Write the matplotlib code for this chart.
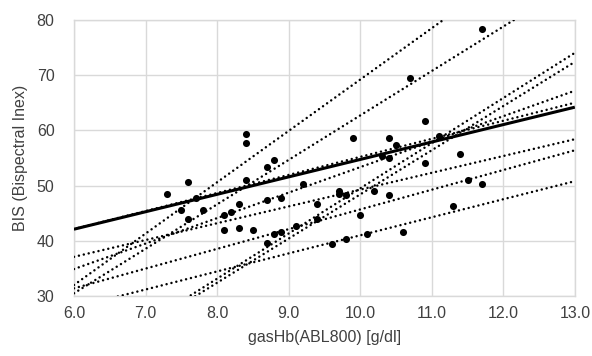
import matplotlib
matplotlib.use("Agg")
import matplotlib.pyplot as plt
import numpy as np

plt.rcParams['font.family'] = ['Liberation Sans', 'DejaVu Sans']

# scatter data: gasHb vs BIS
hb = [7.3, 7.5, 7.6, 7.6, 7.7, 7.8, 8.1, 8.1, 8.2, 8.3, 8.3, 8.4, 8.4, 8.4, 8.5,
      8.7, 8.7, 8.7, 8.8, 8.8, 8.9, 8.9, 9.1, 9.2, 9.4, 9.4, 9.6, 9.7, 9.7, 9.8,
      9.8, 9.9, 10.0, 10.1, 10.2, 10.3, 10.4, 10.4, 10.4, 10.5, 10.6, 10.7, 10.9,
      10.9, 11.1, 11.3, 11.4, 11.5, 11.7, 11.7]
bis = [48.4, 45.6, 50.65, 44.0, 47.75, 45.6, 44.7, 42.0, 45.3, 46.7, 42.3, 59.35,
       57.65, 51.0, 42.0, 53.4, 47.3, 39.6, 54.7, 41.3, 47.7, 41.65, 42.6, 50.35,
       46.7, 44.0, 39.4, 49.0, 48.5, 48.3, 40.3, 58.7, 44.7, 41.3, 49.0, 55.4,
       58.7, 55.0, 48.3, 57.35, 41.65, 69.4, 61.7, 54.0, 59.0, 46.3, 55.7, 51.0,
       50.35, 78.4]

# overall regression (solid)
overall_intercept = 23.16
overall_slope = 3.157

# individual regression lines (dotted)
ind_intercepts = [-23.8, -17.8, -32.3, -31.6, 22.5, 7.2, 18.84, 9.97, 8.29]
ind_slopes = [9.3, 8.05, 8.18, 8.0, 3.27, 4.614, 3.043, 3.571, 3.27]

xticks = [6.0, 7.0, 8.0, 9.0, 10.0, 11.0, 12.0, 13.0]
yticks = [30, 40, 50, 60, 70, 80]

fig = plt.figure(figsize=(5.92, 3.56), dpi=100)
ax = fig.add_axes([0.125, 0.1685, 0.846, 0.7755])

xs = np.linspace(6.0, 13.0, 200)
for a, b in zip(ind_intercepts, ind_slopes):
    ax.plot(xs, a + b * xs, color='black', linewidth=1.8,
            linestyle=(0, (0.01, 2.0)), dash_capstyle='round', zorder=3)
ax.plot(xs, overall_intercept + overall_slope * xs, color='black',
        linewidth=2.2, solid_capstyle='butt', zorder=4)

ax.scatter(hb, bis, s=26, color='black', zorder=5, linewidths=0)

ax.set_xlim(6.0, 13.0)
ax.set_ylim(30, 80)
ax.set_xticks(xticks)
ax.set_xticklabels([f"{v:.1f}" for v in xticks])
ax.set_yticks(yticks)
ax.set_yticklabels([str(v) for v in yticks])
ax.grid(True, color='#d9d9d9', linewidth=1.0, zorder=0)
ax.set_axisbelow(True)
for s in ax.spines.values():
    s.set_color('#d9d9d9')
    s.set_linewidth(1.0)
ax.tick_params(axis='x', length=0, labelsize=11.5, colors='#404040', pad=7)
ax.tick_params(axis='y', length=0, labelsize=11.5, colors='#404040', pad=14)
ax.set_xlabel("gasHb(ABL800) [g/dl]", fontsize=11.5, color='#404040', labelpad=7)
ax.set_ylabel("BIS (Bispectral Inex)", fontsize=11.5, color='#404040', labelpad=6)

fig.savefig("out.png", dpi=100)
